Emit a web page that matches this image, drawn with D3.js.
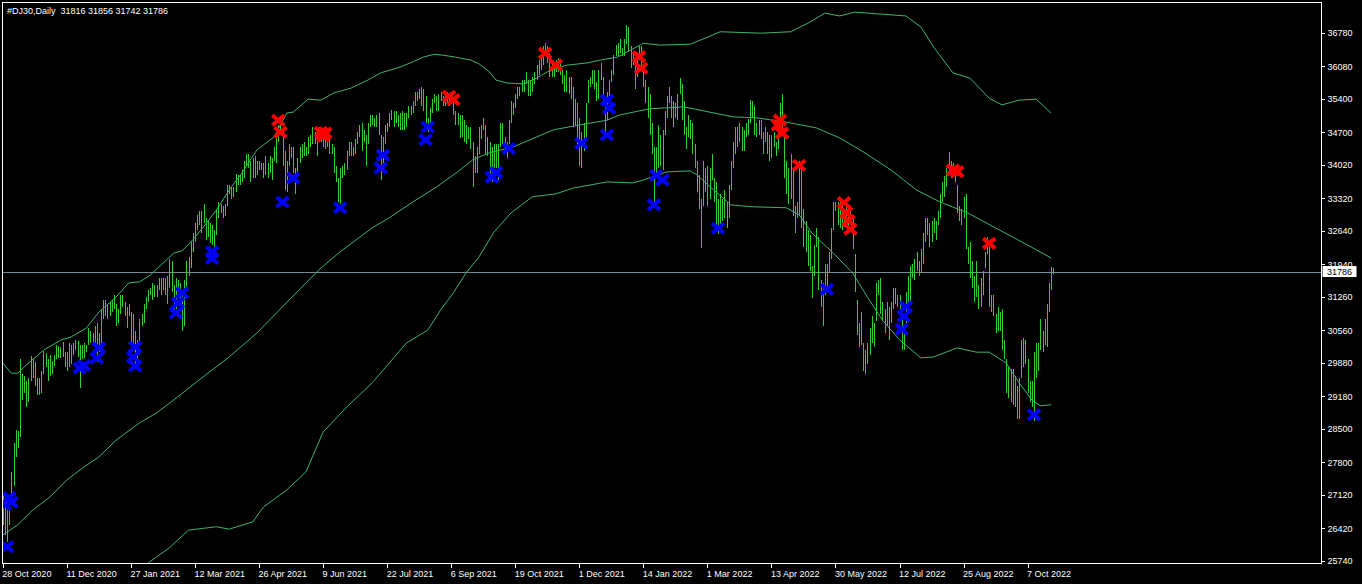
<!DOCTYPE html>
<html>
<head>
<meta charset="utf-8">
<script src="https://cdn.jsdelivr.net/npm/d3@7"></script>
<style>
  html, body { margin: 0; padding: 0; background: #000; }
  svg { display: block; }
  text { font-family: Tahoma, "Liberation Sans", Arial, sans-serif; font-size: 9px; fill: #fff; }
</style>
</head>
<body>
<svg id="chart" width="1362" height="584"></svg>
<script>
// ---- data ----
const symbol = '#DJ30,Daily';
const lastBar = [31816, 31856, 31742, 31786]; // open high low close
const bidPrice = 31786;

const priceTicks = [36780, 36080, 35400, 34700, 34020, 33320, 32640, 31940, 31260,
  30560, 29880, 29180, 28500, 27800, 27120, 26420, 25740];

const dateTickBars = [0, 30, 60, 90, 120, 150, 180, 210, 240, 270, 300, 330, 360, 390, 420, 450, 480];
const dateLabels = ['28 Oct 2020', '11 Dec 2020', '27 Jan 2021', '12 Mar 2021', '26 Apr 2021',
  '9 Jun 2021', '22 Jul 2021', '6 Sep 2021', '19 Oct 2021', '1 Dec 2021', '14 Jan 2022',
  '1 Mar 2022', '13 Apr 2022', '30 May 2022', '12 Jul 2022', '25 Aug 2022', '7 Oct 2022'];

// daily highs, one per bar, 30 bars per row (row = one date-label interval)
const highs = [
  27150,26960,26800,27120,27600,28200,28480,28450,29960,29650,29600,29500,29550,30020,29950,29900,29550,29550,29700,30120,30080,29950,30050,29920,30050,30250,30220,30210,30320,30100,
  30100,30300,30250,30300,30350,30330,30250,30250,30300,30250,30600,30550,30500,30650,30700,30500,31000,31200,31200,31100,31150,31200,31300,31100,31000,31300,31300,31150,31050,31100,
  30950,30900,30550,30350,30800,30900,31100,31250,31400,31450,31550,31500,31500,31650,31650,31650,31650,31700,32050,32000,31500,31650,31600,31550,31400,31600,32000,32100,32400,32600,
  32800,32960,33050,33050,33200,32900,32850,32800,32750,32650,33100,33250,33200,33150,33200,33600,33600,33550,33550,33820,33800,33800,33900,34100,34250,34250,34100,34150,34200,34100,
  34100,34050,34050,34200,34050,34200,34150,34400,34600,34850,35000,34700,34300,34100,34450,34400,34400,33950,34150,34400,34450,34500,34400,34600,34650,34800,34700,34650,34800,34800,
  34750,34600,34600,34550,34450,34400,34000,33750,33950,34000,34050,34300,34500,34500,34400,34550,34700,34850,34900,34750,34650,34900,35050,35050,35000,35050,35100,34650,34600,34850,
  34900,35100,35170,35150,35150,35050,35100,35150,35100,35100,35250,35250,35350,35550,35550,35600,35650,35600,35450,35000,35200,35400,35500,35450,35500,35550,35450,35500,35550,35450,
  35450,35400,35150,35100,35050,35050,34950,34850,34800,34800,34500,34200,34400,34800,34850,35000,34850,34600,34500,34400,34450,34450,34450,34900,34900,34600,34500,34950,35350,35300,
  35500,35650,35650,35800,35800,35950,35800,35800,35850,35950,36100,36200,36300,36500,36570,36500,36350,36150,36150,36200,36250,36150,36000,35900,36000,35850,35850,35650,35400,35300,
  35000,34700,34900,35300,35800,35850,36000,36000,35750,36000,36150,35850,35250,35550,35800,36000,36320,36520,36560,36650,36450,36650,36950,36900,36500,36400,36250,36300,36500,36500,
  36050,35800,35650,35500,34900,34400,34400,34850,34650,34750,35150,35450,35650,35450,35350,35300,35500,35830,35700,35350,34800,35050,34950,34900,34450,34100,33800,33300,34100,33950,
  34000,33950,34250,33750,33650,33300,33400,33300,33500,33250,33600,34100,34500,34800,34800,34900,34800,34750,34900,34980,35370,35350,35250,34900,34950,34950,34700,34800,34700,34650,
  34650,34700,34500,34950,35300,35500,34750,34100,33950,34250,33950,33150,33250,34100,34000,33100,32850,32650,32550,31900,32350,32700,32500,31600,31550,31950,31950,32200,32700,33250,
  33250,33250,33250,33250,33100,33250,33200,33150,32950,32150,31200,30700,30950,30300,30150,30300,30600,30850,30700,31550,31600,31650,31150,31000,31150,31050,31150,31450,31450,31300,
  31300,30900,30650,31350,31700,31900,31950,32050,32200,32000,32250,32600,32900,32900,32800,32850,32900,32850,33050,33400,33650,33780,33950,34280,34100,34050,33950,33600,33150,33100,
  33350,33400,32300,32400,32000,31700,32000,31500,31650,31800,32200,32500,32300,31300,31300,30900,31050,30950,31000,30350,29950,29800,29750,29750,29600,29400,29550,30350,30400,30350,
  29950,29500,29500,30100,30300,30300,30800,30550,30800,31100,31550,31880,31856
];

// daily lows, same layout
const lows = [
  26480,26280,26140,26480,26950,27300,27900,28100,28330,29100,29250,28950,29050,29500,29550,29400,29200,29200,29250,29650,29800,29500,29600,29650,29820,29950,29980,29980,30000,29800,
  29700,29800,29850,30050,30150,30000,29350,29950,29980,30100,30250,30300,30300,30300,29900,30100,30300,30800,30850,30800,30850,30950,31000,30650,30700,30900,31050,30850,30600,30850,
  30250,30250,29850,29900,30250,30650,30700,31000,31150,31300,31200,31250,31250,31400,31300,31400,31300,31100,31450,31350,30850,31000,31350,31200,30550,30650,31400,31700,31850,32200,
  32400,32650,32750,32600,32800,32450,32500,32380,32350,32100,32550,32900,33000,32900,32950,33150,33400,33300,33350,33450,33600,33600,33650,33750,34000,33950,33650,33750,33750,33800,
  33900,33900,33750,33800,33750,33850,33700,34100,34050,34500,34650,34000,33500,33450,34000,34150,33850,33400,33850,34050,34150,34200,34200,34250,34400,34450,34450,34200,34500,34500,
  34400,34350,34400,34250,34250,33850,33650,33250,33200,33750,33800,33900,34200,34200,34200,34250,34450,34600,34300,34500,34000,34450,34800,34850,34800,34800,34650,33700,33900,34450,
  34700,34800,34950,34800,34900,34800,34750,34750,34750,34800,35000,35050,35100,35250,35350,35400,35250,35150,34900,34700,34850,35100,35300,35150,35150,35350,35250,35250,35300,35250,
  35330,35050,34850,34850,34580,34600,34500,34450,34550,34350,33550,33850,33850,34250,34550,34750,34250,34200,33800,33650,33950,33950,33700,34400,34450,34300,34150,34450,34900,35050,
  35200,35400,35450,35550,35550,35700,35450,35450,35550,35700,35800,35900,36000,36100,36300,36150,35850,35850,35850,35950,35950,35900,35700,35550,35550,35500,35400,34800,34850,34400,
  34000,33950,34300,34600,35300,35650,35700,35600,35350,35400,35800,35300,34650,34950,35400,35750,35900,36300,36300,36350,36300,36300,36550,36400,36050,36100,35600,35850,36200,36050,
  35650,35300,35000,34650,34250,33150,33800,33950,34000,33900,34650,35000,35300,35000,34800,35000,34950,35500,34950,34650,34350,34600,34550,34250,33950,33450,33100,32270,33150,33450,
  33150,33300,33700,33250,32750,32580,32700,32850,32900,32700,32900,33500,33950,34250,34400,34500,34300,34300,34600,34650,34900,35000,34650,34600,34650,34550,34250,34500,34250,34100,
  34150,34400,34200,34350,34900,34750,33750,33400,33200,33300,32950,32600,32900,32950,32700,32300,32200,31900,31800,31230,31700,32300,31400,31050,30640,31300,31450,31750,32050,32650,
  33050,32750,32700,32650,32800,32850,32600,32850,32250,31350,30450,30200,30250,29700,29650,29850,30050,30300,30200,30750,31300,30900,30750,30500,30650,30350,30700,31000,31100,31050,
  30900,30140,30150,30700,31000,31150,31650,31600,31800,31700,31750,31950,32400,32550,32300,32400,32600,32450,32750,32900,33250,33350,33550,33800,33750,33850,33650,33000,32850,32750,
  32900,32250,31950,31650,31450,31150,31250,31000,31050,31300,31850,32150,31050,30950,30850,30500,30550,30550,30150,29950,29250,29150,29050,29000,28950,28700,28700,29550,29800,29850,
  29250,29050,28950,28660,29550,29700,30150,30100,30250,30200,30950,31400,31742
];

// Bollinger band lines, sampled as [bar, price]
const upperBand = [[0,29870],[4,29660],[7,29660],[10,29790],[19,30140],[27,30350],[32,30420],[39,30600],
  [45,30940],[53,31250],[59,31550],[64,31570],[69,31710],[74,31920],[80,32170],[84,32220],[89,32450],
  [94,32720],[100,33070],[106,33490],[112,33850],[119,34330],[127,34600],[133,35100],[136,35120],
  [143,35390],[149,35370],[155,35520],[163,35620],[171,35790],[177,35940],[186,36060],[192,36170],
  [197,36270],[202,36330],[206,36310],[212,36270],[219,36210],[223,36130],[228,35960],[231,35790],
  [236,35730],[244,35710],[250,35830],[255,35960],[264,36100],[274,36150],[280,36210],[288,36270],
  [300,36560],[308,36520],[322,36540],[327,36630],[336,36800],[355,36770],[369,36800],[378,37000],
  [385,37190],[392,37130],[399,37210],[411,37170],[423,37130],[430,36900],[436,36480],[445,35940],
  [453,35830],[462,35410],[468,35270],[476,35370],[484,35390],[491,35100]];

const middleBand = [[0,26280],[7,26490],[14,26800],[22,27070],[30,27430],[38,27700],[45,27910],
  [53,28260],[64,28620],[72,28830],[80,29100],[96,29660],[106,30000],[119,30500],[131,31050],
  [142,31550],[148,31820],[158,32200],[173,32700],[181,32910],[192,33240],[203,33550],[213,33870],
  [220,34120],[228,34270],[239,34390],[250,34600],[258,34750],[270,34850],[283,34950],[289,35060],
  [303,35190],[319,35230],[331,35120],[342,35020],[353,35000],[367,34910],[381,34790],[392,34580],
  [403,34290],[416,33910],[428,33490],[439,33240],[452,33010],[467,32650],[480,32340],[491,32070]];

const lowerBand = [[64,25590],[68,25690],[72,25820],[78,26010],[87,26380],[100,26450],[106,26400],
  [117,26550],[122,26860],[133,27220],[142,27600],[145,27910],[150,28430],[161,28950],[173,29460],
  [189,30290],[199,30560],[205,30980],[211,31340],[217,31760],[223,32090],[230,32610],[238,33010],
  [248,33350],[259,33410],[267,33530],[283,33660],[295,33640],[300,33700],[311,33870],[322,33890],
  [325,33810],[333,33490],[341,33180],[351,33140],[367,33120],[373,32970],[379,32590],[389,32170],
  [398,31760],[405,31250],[412,30770],[420,30360],[430,29980],[436,30000],[447,30190],[456,30100],
  [462,30100],[470,29870],[476,29460],[482,29100],[486,28980],[491,29000]];

// signal crosses, [bar, price]
const sellSignals = [[129,34950],[130,34700],[149,34700],[150,34620],[151,34680],[209,35450],[211,35380],
  [254,36350],[259,36105],[298,36280],[299,36035],[363,34850],[364,34955],[365,34680],[373,34010],
  [394,33230],[395,33020],[396,32850],[397,32670],[445,33910],[447,33875],[462,32375]];

const buySignals = [[2,26030],[1,26910],[3,27060],[4,26960],[36,29770],[38,29820],[44,29980],[45,30190],
  [61,30000],[62,30210],[62,29810],[81,30920],[82,31130],[84,31340],[98,32200],[98,32060],
  [131,33240],[136,33740],[158,33120],[177,33950],[178,34220],[198,34540],[199,34810],
  [229,33760],[231,33860],[237,34360],[271,34470],[283,35370],[284,35200],[283,34640],
  [305,33180],[306,33800],[309,33700],[335,32690],[386,31415],[421,30580],[422,30850],[423,31050],[483,28790]];

// ---- chart ----
const svg = d3.select('#chart');
const width = +svg.attr('width');
const height = +svg.attr('height');

const plot = { left: 2.5, top: 2.5, right: 1321.5, bottom: 563.5 };

const xScale = d3.scaleLinear()
  .domain([0, 480])
  .range([2.85, 1027.6]);

const yScale = d3.scaleLinear()
  .domain([25740, 36780])
  .range([560.7, 32.7]);

const barColor = '#32cd32';
const bandColor = '#3cb371';

svg.append('rect')
  .attr('width', width)
  .attr('height', height)
  .attr('fill', '#000');

svg.append('defs').append('clipPath')
  .attr('id', 'plotclip')
  .append('rect')
  .attr('x', plot.left)
  .attr('y', plot.top)
  .attr('width', plot.right - plot.left)
  .attr('height', plot.bottom - plot.top);

const g = svg.append('g').attr('clip-path', 'url(#plotclip)');

// bid line
g.append('line')
  .attr('x1', plot.left)
  .attr('x2', plot.right)
  .attr('y1', Math.round(yScale(bidPrice)) + 0.5)
  .attr('y2', Math.round(yScale(bidPrice)) + 0.5)
  .attr('stroke', '#778899')
  .attr('stroke-width', 1);

// bars: high-low lines
g.append('g')
  .attr('shape-rendering', 'crispEdges')
  .selectAll('line')
  .data(highs.map((h, i) => ({ i, h, l: lows[i] })))
  .enter().append('line')
  .attr('x1', d => Math.round(xScale(d.i)) + 0.5)
  .attr('x2', d => Math.round(xScale(d.i)) + 0.5)
  .attr('y1', d => yScale(d.h))
  .attr('y2', d => yScale(d.l))
  .attr('stroke', barColor)
  .attr('stroke-width', 1);

// bands
const bandLine = d3.line()
  .x(d => xScale(d[0]))
  .y(d => yScale(d[1]));

[upperBand, middleBand, lowerBand].forEach(band => {
  g.append('path')
    .datum(band)
    .attr('d', bandLine)
    .attr('fill', 'none')
    .attr('stroke', bandColor)
    .attr('stroke-width', 1);
});

// crosses, a bit wider than tall like the terminal's arrow glyph
const crossPath = 'M-6,-5L6,5M6,-5L-6,5';
const drawCrosses = (data, color) => {
  g.append('g')
    .selectAll('path')
    .data(data)
    .enter().append('path')
    .attr('d', crossPath)
    .attr('transform', d => `translate(${xScale(d[0])},${yScale(d[1])})`)
    .attr('fill', 'none')
    .attr('stroke', color)
    .attr('stroke-width', 4);
};
drawCrosses(sellSignals, '#ff0000');
drawCrosses(buySignals, '#0000ff');

// frame
svg.append('rect')
  .attr('x', plot.left)
  .attr('y', plot.top)
  .attr('width', plot.right - plot.left)
  .attr('height', plot.bottom - plot.top)
  .attr('fill', 'none')
  .attr('stroke', '#fff')
  .attr('stroke-width', 1)
  .attr('shape-rendering', 'crispEdges');

// price axis
const yAxis = d3.axisRight(yScale)
  .tickValues(priceTicks)
  .tickFormat(d => d)
  .tickSize(3)
  .tickPadding(3);

const yAxisG = svg.append('g')
  .attr('transform', `translate(${plot.right},0)`)
  .call(yAxis);
yAxisG.select('.domain').remove();
yAxisG.selectAll('line').attr('stroke', '#fff').attr('shape-rendering', 'crispEdges');
yAxisG.selectAll('text').attr('fill', '#fff').style('font-size', '9px');

// date axis
const xAxis = d3.axisBottom(xScale)
  .tickValues(dateTickBars)
  .tickFormat((d, i) => dateLabels[i])
  .tickSize(4)
  .tickPadding(3);

const xAxisG = svg.append('g')
  .attr('transform', `translate(0,${plot.bottom})`)
  .call(xAxis);
xAxisG.select('.domain').remove();
xAxisG.selectAll('line').attr('stroke', '#fff').attr('shape-rendering', 'crispEdges');
xAxisG.selectAll('text')
  .attr('fill', '#fff')
  .attr('text-anchor', 'start')
  .attr('dx', -1)
  .style('font-size', '9px');

// bid price label (covers the neighbouring tick label, as in the terminal)
const bidY = yScale(bidPrice);
svg.append('rect')
  .attr('x', plot.right + 1)
  .attr('y', bidY - 5.5)
  .attr('width', 34)
  .attr('height', 11)
  .attr('fill', '#fff');
svg.append('text')
  .attr('x', plot.right + 5.5)
  .attr('y', bidY + 3.3)
  .style('fill', '#000')
  .text(bidPrice);

// header
svg.append('text')
  .attr('x', 7)
  .attr('y', 14)
  .style('white-space', 'pre')
  .text(`${symbol}  ${lastBar.join(' ')}`);
</script>
</body>
</html>
